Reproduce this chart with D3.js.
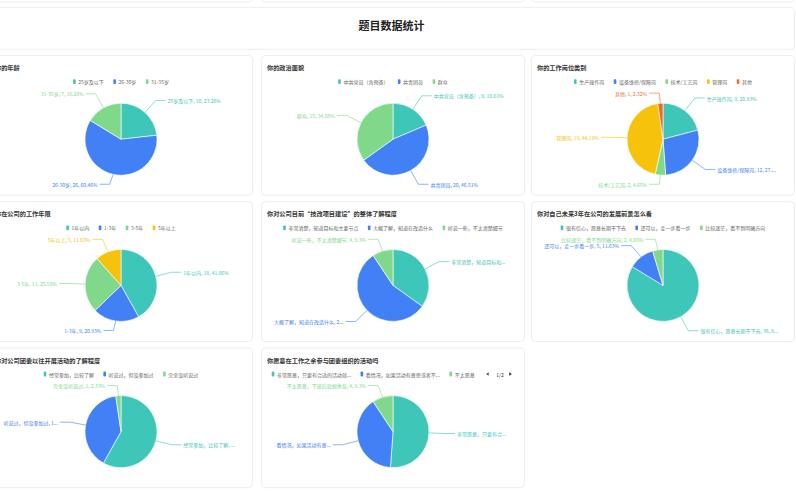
<!DOCTYPE html>
<html><head><meta charset="utf-8">
<script src="https://cdn.jsdelivr.net/npm/d3@7"></script>
<style>
html,body{margin:0;padding:0;background:#fff;overflow:hidden;}
svg{display:block;font-family:"Noto Sans CJK SC","Noto Sans",sans-serif;}
</style></head><body>
<svg id="c" width="796" height="497"></svg>
<script>
// ---------- DATA ----------
const pageTitle = "题目数据统计";
const chartTitles = [
  "你的年龄",
  "你的政治面貌",
  "你的工作岗位类别",
  "你在公司的工作年限",
  "你对公司目前“技改项目建设”的整体了解程度",
  "你对自己未来3年在公司的发展前景怎么看",
  "你对公司团委以往开展活动的了解程度",
  "你愿意在工作之余参与团委组织的活动吗"
];
const ageCats = ["25岁及以下", "26-30岁", "31-35岁"];
const ageVals = [10, 26, 7];
const politicsCats = ["中共党员（含预备）", "共青团员", "群众"];
const politicsVals = [8, 20, 15];
const jobCats = ["生产操作岗", "设备维修/保障岗", "技术/工艺岗", "管理岗", "其他"];
const jobVals = [9, 12, 2, 19, 1];
const tenureCats = ["1年以内", "1-3年", "3-5年", "5年以上"];
const tenureVals = [18, 9, 11, 5];
const projectCats = ["非常清楚，知道目标和主要节点", "大概了解，知道在改造什么", "听说一些，不太清楚细节"];
const projectVals = [15, 24, 4];
const outlookCats = ["很有信心，愿意长期干下去", "还可以，走一步看一步", "比较迷茫，看不到明确方向"];
const outlookVals = [36, 5, 2];
const activityCats = ["经常参加，比较了解", "听说过，但没参加过", "完全没听说过"];
const activityVals = [25, 17, 1];
const willingCats = ["非常愿意，只要有合适的活动就会参加", "看情况，如果活动有意思或者不占用休息时间就参加", "不太愿意，下班后就想休息"];
const willingVals = [22, 17, 4];
const palette = ["#3ec6b9", "#4181f5", "#80d88b", "#f6c20b", "#f26b1d"];

const charts = [
  {title: chartTitles[0], cats: ageCats, vals: ageVals},
  {title: chartTitles[1], cats: politicsCats, vals: politicsVals},
  {title: chartTitles[2], cats: jobCats, vals: jobVals},
  {title: chartTitles[3], cats: tenureCats, vals: tenureVals},
  {title: chartTitles[4], cats: projectCats, vals: projectVals},
  {title: chartTitles[5], cats: outlookCats, vals: outlookVals},
  {title: chartTitles[6], cats: activityCats, vals: activityVals},
  {title: chartTitles[7], cats: willingCats, vals: willingVals}
];

// ---------- LAYOUT ----------
const colX = [-11, 261, 531];
const cardW = 264;
const rowY = [55, 201.2, 347.4];
const cardH = 140.8;
const R = 36;
const LEN = 16, LEN2 = 10, GAP = 2;
const LBL_SIZE = 5.0, LEG_SIZE = 5, LBL_H = 6.3;
const EDGE_L = 12.8, EDGE_R = 16.8;

const svg = d3.select("#c");
const FONT = '"Noto Sans CJK SC","Noto Sans",sans-serif';
const measurer = svg.append("text").attr("x", -1000).attr("y", -1000).style("font-family", FONT);
function textW(s, size) { measurer.attr("font-size", size).text(s); return measurer.node().getComputedTextLength(); }
function truncate(s, size, maxW, ell = "...") {
  if (textW(s, size) <= maxW) return s;
  let t = s;
  while (t.length > 0 && textW(t + ell, size) > maxW) t = t.slice(0, -1);
  return t + ell;
}
function percents(vals, precision) {
  const sum = d3.sum(vals);
  const digits = Math.pow(10, precision);
  const target = digits * 100;
  const quota = vals.map(v => v / sum * target);
  const seats = quota.map(Math.floor);
  let cur = d3.sum(seats);
  const rem = quota.map((q, i) => q - seats[i]);
  while (cur < target) {
    let mx = -Infinity, id = -1;
    rem.forEach((r, i) => { if (r > mx) { mx = r; id = i; } });
    seats[id]++; rem[id] = 0; cur++;
  }
  return seats.map(s => +(s / digits).toFixed(precision));
}

// remnant cards at the top
colX.forEach(x => {
  svg.append("rect").attr("x", x + 0.5).attr("y", -60).attr("width", cardW - 1).attr("height", 62)
    .attr("rx", 4).attr("fill", "#fff").attr("stroke", "#e9e9e9").attr("stroke-width", 0.8);
});
// page title card
svg.append("rect").attr("x", -12).attr("y", 7.3).attr("width", 806.5).attr("height", 42)
  .attr("rx", 4).attr("fill", "#fff").attr("stroke", "#e9e9e9").attr("stroke-width", 0.8);
svg.append("text").attr("x", 391.5).attr("y", 24.5).attr("text-anchor", "middle").attr("dominant-baseline", "central")
  .attr("font-size", 11).attr("font-weight", "bold").attr("fill", "#222").text(pageTitle);

function drawLegend(g, ch, x0, y0) {
  const iconW = 2.6, iconH = 4.8, iconGap = 2.6, itemGap = 9.5;
  const items = ch.cats.map((c, k) => {
    const t = truncate(c, LEG_SIZE, 78);
    return {t, tw: textW(t, LEG_SIZE), color: palette[k]};
  });
  items.forEach(d => d.w = iconW + iconGap + d.tw);
  const total = d3.sum(items, d => d.w) + itemGap * (items.length - 1);
  const ly = y0 + 26.6;
  let startX, scroll = false;
  if (total <= cardW - 24) startX = x0 + (cardW - total) / 2;
  else { startX = x0 + 10.7; scroll = true; }
  const clipRight = x0 + cardW - 46;
  if (scroll) {
    const px = x0 + cardW;
    g.append("path").attr("d", `M${px - 36.3},${ly - 1.8}L${px - 36.3},${ly + 1.8}L${px - 39},${ly}Z`).attr("fill", "#555");
    g.append("text").attr("x", px - 25).attr("y", ly).attr("text-anchor", "middle").attr("dominant-baseline", "central")
      .attr("font-size", LEG_SIZE).attr("fill", "#333").text("1/2");
    g.append("path").attr("d", `M${px - 15.8},${ly - 1.8}L${px - 15.8},${ly + 1.8}L${px - 13.1},${ly}Z`).attr("fill", "#333");
  }
  let cx = startX;
  items.forEach(d => {
    if (scroll && cx + iconW > clipRight) return;
    g.append("rect").attr("x", cx).attr("y", ly - iconH / 2).attr("width", iconW).attr("height", iconH)
      .attr("rx", 0.9).attr("fill", d.color);
    let t = d.t;
    const tx = cx + iconW + iconGap;
    // page 1 of a scrolling legend: the item cut by the pager shows only the characters that fit
    if (scroll && tx + d.tw > clipRight) t = truncate(d.t, LEG_SIZE, clipRight - tx, "");
    g.append("text").attr("x", tx).attr("y", ly).attr("dominant-baseline", "central")
      .attr("font-size", LEG_SIZE).attr("fill", "#666").text(t);
    cx += d.w + itemGap;
  });
}

function adjustSide(items, cx, cy, dir, minB, maxB) {
  if (items.length < 2) return;
  items.sort((a, b) => a.y - b.y);
  let adjusted = false;
  for (let i = 1; i < items.length; i++) {
    const prevBottom = items[i - 1].y + LBL_H / 2;
    const top = items[i].y - LBL_H / 2;
    if (top < prevBottom) { items[i].y += prevBottom - top; adjusted = true; }
  }
  if (items[0].y - LBL_H / 2 < minB) {
    items[0].y = minB + LBL_H / 2;
    for (let i = 1; i < items.length; i++) {
      const need = items[i - 1].y + LBL_H;
      if (items[i].y < need) items[i].y = need;
    }
  }
  const n = items.length;
  if (items[n - 1].y + LBL_H / 2 > maxB) {
    items[n - 1].y = maxB - LBL_H / 2;
    for (let i = n - 2; i >= 0; i--) {
      const need = items[i + 1].y - LBL_H;
      if (items[i].y > need) items[i].y = need;
    }
  }
  if (adjusted) {
    const rA = R + LEN;
    const semis = [{list: [], maxY: 0, rB: rA}, {list: [], maxY: 0, rB: rA}];
    items.forEach(it => {
      const semi = it.y > cy ? semis[1] : semis[0];
      const dyy = Math.abs(it.y - cy);
      if (dyy >= semi.maxY) {
        const ddx = it.x2 - cx;
        semi.rB = Math.abs(ddx) < rA ? Math.sqrt(dyy * dyy / (1 - ddx * ddx / rA / rA)) : rA;
        semi.maxY = dyy;
      }
      semi.list.push(it);
    });
    semis.forEach(semi => semi.list.forEach(it => {
      const dyy = Math.abs(it.y - cy);
      const ddx = Math.sqrt(Math.max(0, 1 - dyy * dyy / (semi.rB * semi.rB)) * rA * rA);
      it.x2 = cx + ddx * dir;
    }));
  }
}

const pie = d3.pie().sort(null).startAngle(0).endAngle(2 * Math.PI);
const arc = d3.arc().innerRadius(0).outerRadius(R);

charts.forEach((ch, i) => {
  const x0 = colX[i % 3], y0 = rowY[Math.floor(i / 3)];
  const g = svg.append("g");
  g.append("rect").attr("x", x0 + 0.5).attr("y", y0 + 0.5).attr("width", cardW - 1).attr("height", cardH - 1)
    .attr("rx", 4).attr("fill", "#fff").attr("stroke", "#e9e9e9").attr("stroke-width", 0.8);
  g.append("text").attr("x", x0 + 6).attr("y", y0 + 12.7).attr("dominant-baseline", "central")
    .attr("font-size", 6.2).attr("font-weight", "bold").attr("fill", "#333").text(ch.title);
  drawLegend(g, ch, x0, y0);

  const cx = x0 + cardW / 2, cy = y0 + 84.2;
  const arcs = pie(ch.vals);
  const pcts = percents(ch.vals, 2);
  const pg = g.append("g").attr("transform", `translate(${cx},${cy})`);
  pg.selectAll("path").data(arcs).join("path")
    .attr("d", arc).attr("fill", (d, k) => palette[k])
    .attr("stroke", "#fff").attr("stroke-width", 0.6).attr("stroke-linejoin", "round");

  const labels = arcs.map((a, k) => {
    const mid = (a.startAngle + a.endAngle) / 2;
    const dx = Math.sin(mid), dy = -Math.cos(mid);
    const dir = dx < 0 ? -1 : 1;
    return {
      k, dir,
      x1: cx + R * dx, y1: cy + R * dy,
      x2: cx + (R + LEN) * dx, y: cy + (R + LEN) * dy,
      text: `${ch.cats[k]}, ${ch.vals[k]}, ${pcts[k]}%`,
      color: palette[k]
    };
  });
  const minB = y0 + 35, maxB = y0 + 132.4;
  adjustSide(labels.filter(l => l.dir < 0), cx, cy, -1, minB, maxB);
  adjustSide(labels.filter(l => l.dir > 0), cx, cy, 1, minB, maxB);

  labels.forEach(l => {
    const x3 = l.x2 + l.dir * LEN2;
    const tx = x3 + l.dir * GAP;
    const maxW = l.dir > 0 ? (x0 + cardW - EDGE_R) - tx : tx - (x0 + EDGE_L);
    const t = truncate(l.text, LBL_SIZE, maxW);
    g.append("path").attr("d", d3.line()([[l.x1, l.y1], [l.x2, l.y], [x3, l.y]]))
      .attr("fill", "none").attr("stroke", l.color).attr("stroke-width", 0.6);
    g.append("text").attr("x", tx).attr("y", l.y).attr("dominant-baseline", "central")
      .attr("text-anchor", l.dir > 0 ? "start" : "end")
      .attr("font-size", LBL_SIZE).attr("fill", l.color).text(t);
  });
});
measurer.remove();
</script></body></html>
